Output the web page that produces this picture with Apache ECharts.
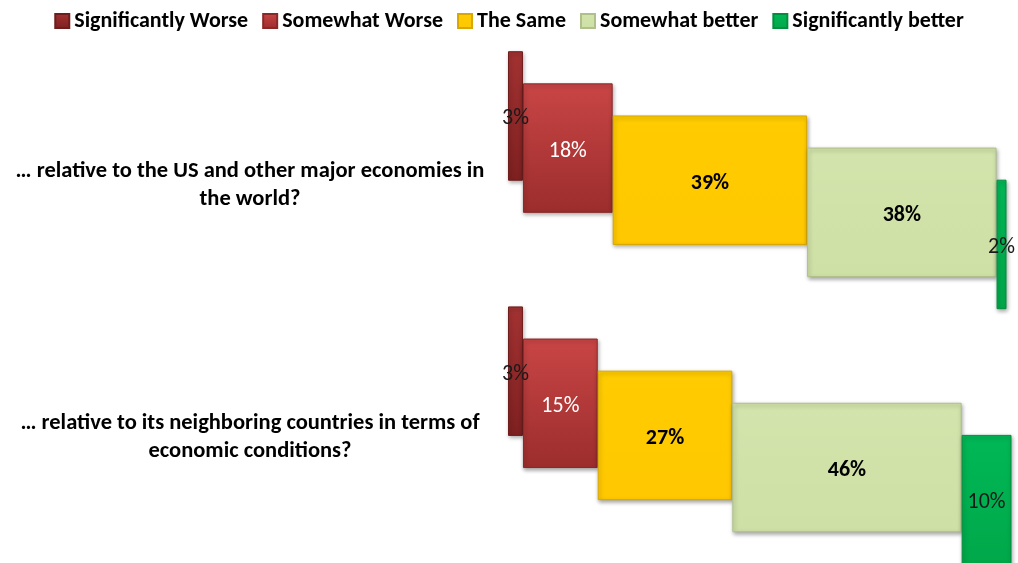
<!DOCTYPE html>
<html>
<head>
<meta charset="utf-8">
<script src="https://cdn.jsdelivr.net/npm/echarts@6/dist/echarts.min.js"></script>
<style>
html,body{margin:0;padding:0;background:#fff;}
#chart{width:1018px;height:563px;}
</style>
</head>
<body>
<div id="chart"></div>
<script>
const categories = [
  '… relative to the US and other major economies in\nthe world?',
  '… relative to its neighboring countries in terms of\neconomic conditions?'
];
const seriesNames = ['Significantly Worse', 'Somewhat Worse', 'The Same', 'Somewhat better', 'Significantly better'];
const significantlyWorse = [3, 3];
const somewhatWorse = [18, 15];
const theSame = [39, 27];
const somewhatBetter = [38, 46];
const significantlyBetter = [2, 10];

const values = [significantlyWorse, somewhatWorse, theSame, somewhatBetter, significantlyBetter];

const FONT = 'Carlito';
const styles = [
  {top: '#A33232', bottom: '#7E2020', border: '#6E1C1C', label: '#1a1a1a', bold: false},
  {top: '#C94545', bottom: '#9C2D2D', border: '#8A2828', label: '#ffffff', bold: false},
  {top: '#FFCC00', bottom: '#FFC800', border: '#D9A800', label: '#000000', bold: true},
  {top: '#D3E4AC', bottom: '#CFE0A6', border: '#AFC08A', label: '#000000', bold: true},
  {top: '#00B856', bottom: '#00A84A', border: '#008F3E', label: '#1a1a1a', bold: false}
];

const series = [];
values.forEach((vals, i) => {
  const base = vals.map((_, c) => values.slice(0, i).reduce((s, arr) => s + arr[c], 0));
  const st = styles[i];
  series.push({
    type: 'bar', stack: 's' + i, name: 'base' + i, data: base,
    barWidth: 129.5, barGap: '-75.2%', clip: false, silent: true,
    itemStyle: {color: 'transparent'}, label: {show: false}, emphasis: {disabled: true}
  });
  series.push({
    type: 'bar', stack: 's' + i, name: seriesNames[i], data: vals,
    barWidth: 129.5, barGap: '-75.2%', clip: false,
    itemStyle: {
      color: new echarts.graphic.LinearGradient(0, 0, 0, 1, [
        {offset: 0, color: st.top}, {offset: 1, color: st.bottom}
      ]),
      borderColor: st.border, borderWidth: 1,
      shadowBlur: 4, shadowOffsetX: 1, shadowOffsetY: 2, shadowColor: 'rgba(0,0,0,0.35)'
    },
    label: {
      show: true, position: 'inside', offset: [0, 3], formatter: p => p.value + '%',
      color: st.label, fontFamily: FONT, fontSize: 22, fontWeight: st.bold ? 'bold' : 'normal'
    },
    emphasis: {disabled: true}
  });
});

const chart = echarts.init(document.getElementById('chart'));
chart.setOption({
  animation: false,
  legend: {
    data: seriesNames, top: 5, left: 'center', itemWidth: 14, itemHeight: 14, itemGap: 14,
    icon: 'rect',
    textStyle: {fontFamily: FONT, fontSize: 22, fontWeight: 'bold', color: '#000'}
  },
  grid: [
    {left: 508, right: 9, top: 52.6, height: 511.2, containLabel: false},
    {left: 508, right: 9, top: 59.5, height: 511.2, containLabel: false}
  ],
  xAxis: [
    {type: 'value', min: 0, max: 100.5, show: false, gridIndex: 0},
    {type: 'value', min: 0, max: 100.5, show: false, gridIndex: 1}
  ],
  yAxis: [
    {
      type: 'category', data: categories, inverse: true, gridIndex: 0,
      axisLine: {show: false}, axisTick: {show: false}, axisLabel: {show: false}
    },
    {
      type: 'category', data: categories, inverse: true, gridIndex: 1,
      axisLine: {show: false}, axisTick: {show: false}, splitLine: {show: false},
      axisLabel: {
        align: 'center', margin: 258, lineHeight: 28.5,
        fontFamily: FONT, fontSize: 22.5, fontWeight: 'bold', color: '#000'
      }
    }
  ],
  series: series
});
</script>
</body>
</html>
